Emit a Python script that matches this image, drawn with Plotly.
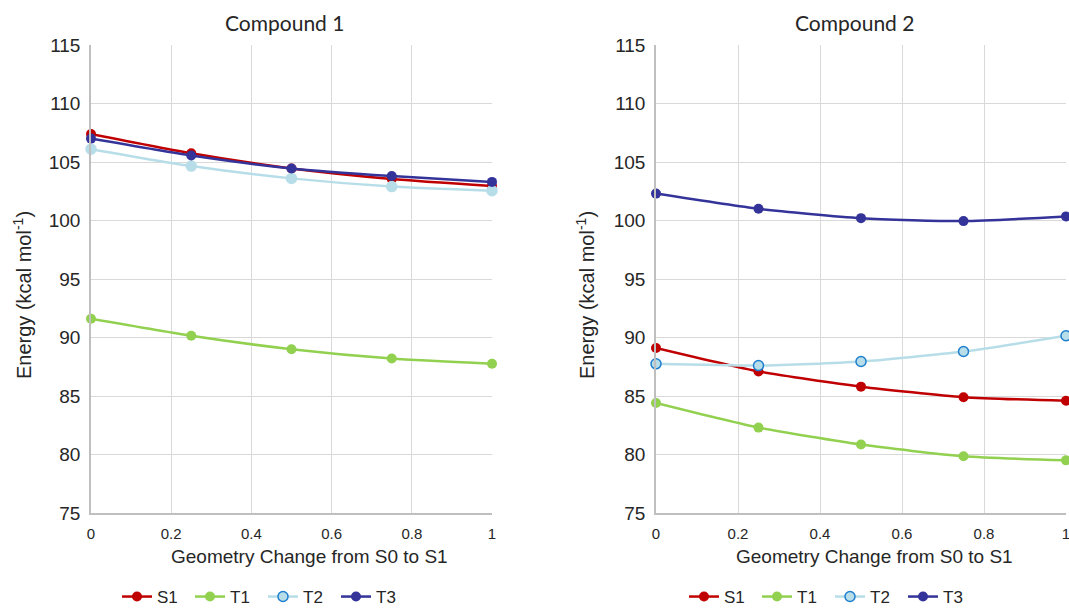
import plotly.graph_objects as go

# Geometry coordinate (fraction of the way from S0 to S1 geometry)
geometry = [0, 0.25, 0.5, 0.75, 1]

# Compound 1 state energies (kcal/mol)
c1_S1 = [107.4, 105.75, 104.45, 103.55, 102.95]
c1_T1 = [91.6, 90.15, 89.0, 88.2, 87.75]
c1_T2 = [106.1, 104.65, 103.6, 102.9, 102.55]
c1_T3 = [107.0, 105.55, 104.45, 103.8, 103.3]

# Compound 2 state energies (kcal/mol)
c2_S1 = [89.1, 87.1, 85.8, 84.9, 84.6]
c2_T1 = [84.4, 82.3, 80.85, 79.85, 79.5]
c2_T2 = [87.75, 87.6, 87.95, 88.8, 90.15]
c2_T3 = [102.3, 101.0, 100.2, 99.95, 100.35]

states = ["S1", "T1", "T2", "T3"]
colors = {"S1": "#C00000", "T1": "#92D050", "T2": "#B7DEE8", "T3": "#333399"}
T2_EDGE = "#1F7FCF"

W, H = 1069, 608
FONT = "Liberation Sans, Arial, sans-serif"
TITLE_FONT = "Lato, Calibri, sans-serif"
DARK = "#262626"

fig = go.Figure()


def add_panel(series, xa, ya, legend_name, t2_outline):
    for rank, name in enumerate(states):
        col = colors[name]
        line = dict(color=col, width=2.5, shape="spline", smoothing=0.6)
        if name == "T2":
            edge = T2_EDGE if t2_outline else col
            marker = dict(size=10, color=col, line=dict(color=edge, width=1.5))
        else:
            marker = dict(size=10, color=col, line=dict(width=0))
        fig.add_trace(go.Scatter(
            x=geometry, y=series[name], name=name, mode="lines+markers",
            line=line, marker=marker, xaxis=xa, yaxis=ya, legend=legend_name,
            legendrank=rank + 1, showlegend=(name != "T2" or t2_outline),
            cliponaxis=False,
        ))
        if name == "T2" and not t2_outline:
            # legend key with the outlined T2 marker
            fig.add_trace(go.Scatter(
                x=[None], y=[None], name=name, mode="lines+markers", line=line,
                marker=dict(size=10, color=col, line=dict(color=T2_EDGE, width=1.5)),
                xaxis=xa, yaxis=ya, legend=legend_name, legendrank=rank + 1,
            ))


add_panel({"S1": c1_S1, "T1": c1_T1, "T2": c1_T2, "T3": c1_T3}, "x", "y", "legend", False)
add_panel({"S1": c2_S1, "T1": c2_T1, "T2": c2_T2, "T3": c2_T3}, "x2", "y2", "legend2", True)

grid = "#D9D9D9"
y_top, y_bot = 45, 513
ydom = [1 - y_bot / H, 1 - y_top / H]

xcommon = dict(range=[0, 1], tickvals=[0, 0.2, 0.4, 0.6, 0.8, 1],
               ticktext=["0", "0.2", "0.4", "0.6", "0.8", "1"],
               showgrid=True, gridcolor=grid, gridwidth=1,
               showline=True, linecolor="#BFBFBF", linewidth=1.5,
               zeroline=False, ticks="", ticklabelstandoff=6,
               ticklabeloverflow="allow",
               tickfont=dict(size=15, color=DARK))
ycommon = dict(range=[75, 115], dtick=5, showgrid=True, gridcolor=grid, gridwidth=1,
               showline=True, linecolor="#BFBFBF", linewidth=1.5,
               zeroline=False, ticks="", ticklabelstandoff=5,
               tickfont=dict(size=19, color=DARK), domain=ydom)

legend_common = dict(orientation="h", xanchor="center", y=1 - 597 / H, yanchor="middle",
                     font=dict(size=17, color=DARK), tracegroupgap=0,
                     entrywidth=28, entrywidthmode="pixels",
                     bgcolor="rgba(0,0,0,0)")

fig.update_layout(
    width=W, height=H,
    margin=dict(l=0, r=0, t=0, b=0, autoexpand=False),
    paper_bgcolor="white", plot_bgcolor="white",
    font=dict(family=FONT, color=DARK),
    showlegend=True,
    xaxis=dict(domain=[91 / W, 492 / W], anchor="y", **xcommon),
    yaxis=dict(anchor="x", **ycommon),
    xaxis2=dict(domain=[656 / W, 1066 / W], anchor="y2", **xcommon),
    yaxis2=dict(anchor="x2", **ycommon),
    legend=dict(x=263 / W, **legend_common),
    legend2=dict(x=830 / W, **legend_common),
)

notes = []
for text, cx in (("Compound 1", 284), ("Compound 2", 854)):
    notes.append(dict(text=text, x=cx / W, y=1 - 23 / H, xref="paper", yref="paper",
                      xanchor="center", yanchor="middle", showarrow=False,
                      font=dict(family=TITLE_FONT, size=21, color=DARK)))
for cx in (309, 874):
    notes.append(dict(text="Geometry Change from S0 to S1", x=cx / W, y=1 - 556 / H,
                      xref="paper", yref="paper", xanchor="center", yanchor="middle",
                      showarrow=False, font=dict(size=19, color=DARK)))
for cx in (22, 585):
    notes.append(dict(text="Energy (kcal mol<sup>-1</sup>)", x=cx / W, y=1 - 295 / H,
                      xref="paper", yref="paper", xanchor="center", yanchor="middle",
                      textangle=-90, showarrow=False, font=dict(size=20, color=DARK)))
fig.update_layout(annotations=notes)

fig.write_html("out.html")
